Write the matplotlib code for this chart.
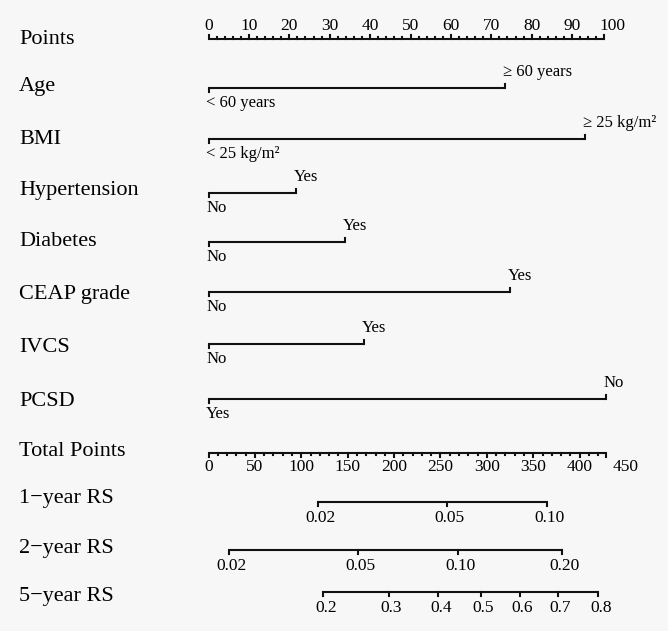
import numpy as np
import matplotlib.pyplot as plt
import matplotlib as mpl

mpl.rcParams.update({
    "font.family": ["Liberation Serif", "DejaVu Serif"],
    "font.size": 12,
})

# points for each predictor level (0-100 scale)
age_levels = ["< 60 years", "\u2265 60 years"]
age_points = [0, 73.5]
bmi_levels = ["< 25 kg/m\u00b2", "\u2265 25 kg/m\u00b2"]
bmi_points = [0, 93.2]
htn_levels = ["No", "Yes"]
htn_points = [0, 21.7]
dm_levels = ["No", "Yes"]
dm_points = [0, 33.8]
ceap_levels = ["No", "Yes"]
ceap_points = [0, 74.6]
ivcs_levels = ["No", "Yes"]
ivcs_points = [0, 38.6]
pcsd_levels = ["Yes", "No"]
pcsd_points = [0, 98.3]

# risk scales, positions in total points
rs1_labels = ["0.02", "0.05", "0.10"]
rs1_total = [118.3, 256.7, 364.4]
rs2_labels = ["0.02", "0.05", "0.10", "0.20"]
rs2_total = [22.4, 161.4, 269.2, 381.2]
rs5_labels = ["0.2", "0.3", "0.4", "0.5", "0.6", "0.7", "0.8"]
rs5_total = [123.7, 194.5, 247.6, 293.6, 335.7, 376.3, 420.0]

points_max = 97.8
total_max = 428.3
total_to_points = 0.2297   # one total point on the points scale

row_names = ["Points", "Age", "BMI", "Hypertension", "Diabetes", "CEAP grade",
             "IVCS", "PCSD", "Total Points", "1\u2212year RS", "2\u2212year RS",
             "5\u2212year RS"]
row_text_y = [40, 87, 139, 190, 242, 294, 347, 402, 452, 499, 548, 596]
row_line_y = [39, 88, 139, 192.7, 241.7, 291.7, 344, 399, 453, 501.7, 550, 591.7]

lw = 1.5
col = "#111111"

fig = plt.figure(figsize=(6.68, 6.31), dpi=100)
fig.patch.set_facecolor("#f7f7f7")
ax = fig.add_axes([0, 0, 1, 1])
ax.set_facecolor("#f7f7f7")
ax.set_xlim(-208.5 / 4.04, (668 - 208.5) / 4.04)
ax.set_ylim(631, 0)
ax.axis("off")

for name, ty in zip(row_names, row_text_y):
    ax.text(-208.5 / 4.04 + 19 / 4.04, ty, name, fontsize=16, va="center", ha="left")

# Points axis
y = row_line_y[0]
ax.plot([0, points_max], [y, y], color=col, lw=lw, solid_capstyle="butt")
for v in np.arange(0, points_max + 0.1, 2):
    h = 4 if v % 10 == 0 else 2
    ax.plot([v, v], [y, y - h], color=col, lw=lw)
ax.plot([points_max, points_max], [y, y - 4], color=col, lw=lw)
for v in range(0, 101, 10):
    ax.text(v, y - 13, str(v), ha="center", va="center", fontsize=12.5)

# predictor rows
predictors = [
    (age_levels, age_points),
    (bmi_levels, bmi_points),
    (htn_levels, htn_points),
    (dm_levels, dm_points),
    (ceap_levels, ceap_points),
    (ivcs_levels, ivcs_points),
    (pcsd_levels, pcsd_points),
]
for i, (levels, pts) in enumerate(predictors):
    y = row_line_y[i + 1]
    ax.plot([pts[0], pts[1]], [y, y], color=col, lw=lw, solid_capstyle="butt")
    ax.plot([pts[0], pts[0]], [y, y + 4], color=col, lw=lw)
    ax.plot([pts[1], pts[1]], [y, y - 4], color=col, lw=lw)
    ax.text(pts[0] - 0.6, y + 15, levels[0], ha="left", va="center", fontsize=12)
    ax.text(pts[1] - 0.6, y - 16, levels[1], ha="left", va="center", fontsize=12)

# Total points axis
y = row_line_y[8]
ax.plot([0, total_max * total_to_points], [y, y], color=col, lw=lw, solid_capstyle="butt")
for v in np.arange(0, total_max + 0.1, 10):
    h = 4 if v % 50 == 0 else 2
    ax.plot([v * total_to_points] * 2, [y, y + h], color=col, lw=lw)
ax.plot([total_max * total_to_points] * 2, [y, y + 4], color=col, lw=lw)
for v in range(0, 451, 50):
    ax.text(v * total_to_points, y + 14, str(v), ha="center", va="center", fontsize=12.5)

# risk axes
for k, (labels, tot) in enumerate([(rs1_labels, rs1_total),
                                   (rs2_labels, rs2_total),
                                   (rs5_labels, rs5_total)]):
    y = row_line_y[9 + k]
    xs = [t * total_to_points for t in tot]
    ax.plot([xs[0], xs[-1]], [y, y], color=col, lw=lw, solid_capstyle="butt")
    for xv, lab in zip(xs, labels):
        ax.plot([xv, xv], [y, y + 4], color=col, lw=lw)
        ax.text(xv + 0.6, y + 16, lab, ha="center", va="center", fontsize=12.5)

fig.savefig("out.png", dpi=100, facecolor=fig.get_facecolor())
